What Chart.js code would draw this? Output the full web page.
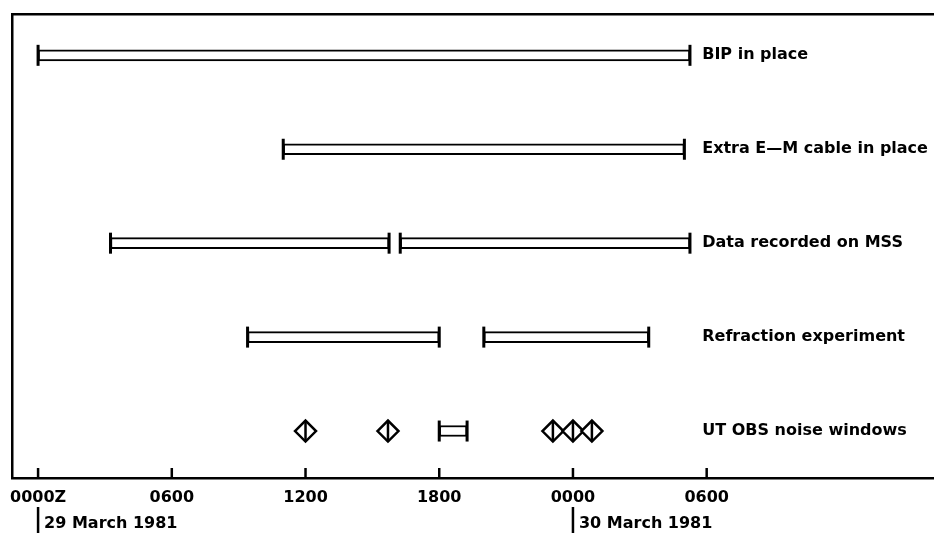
<!DOCTYPE html>
<html>
<head>
<meta charset="utf-8">
<script src="https://cdn.jsdelivr.net/npm/chart.js@4.4.1/dist/chart.umd.min.js"></script>
<style>
  html, body { margin: 0; padding: 0; background: #fff; overflow: hidden; }
  canvas { display: block; }
</style>
</head>
<body>
<canvas id="timeline" width="934" height="533"></canvas>
<script>
// hours from 0000Z 29 March 1981
const rowLabels = ['BIP in place', 'Extra E\u2014M cable in place', 'Data recorded on MSS', 'Refraction experiment', 'UT OBS noise windows'];
const barRows   = [0, 1, 2, 2, 3, 3, 4];
const barStarts = [0, 11.0, 3.25, 16.25, 9.4, 20.0, 18.0];
const barEnds   = [29.25, 29.0, 15.75, 29.25, 18.0, 27.4, 19.25];
const noiseTimes = [12.0, 15.7, 23.1, 24.0, 24.85];
const noiseRow = 4;
const tickValues = [0, 6, 12, 18, 24, 30];
const tickLabels = ['0000Z', '0600', '1200', '1800', '0000', '0600'];
const dateTimes  = [0, 24];
const dateLabels = ['29 March 1981', '30 March 1981'];
const labelHour = 29.8;

const FONT = 'bold 16px "DejaVu Sans"';
const X_MIN = -1.17, X_MAX = 40.2;

const bars = barRows.map((r, i) => ({ y: r, x: [barStarts[i], barEnds[i]] }));
const caps = barRows.flatMap((r, i) => [{ x: barStarts[i], y: r }, { x: barEnds[i], y: r }]);
const noisePts = noiseTimes.map(t => ({ x: t, y: noiseRow }));

// scatter points that don't push the chart area inward (frame goes to the canvas edge)
class MarkController extends Chart.ScatterController {
    getMaxOverflow() { return 0; }
}
MarkController.id = 'marks';
MarkController.defaults = Object.assign({}, Chart.ScatterController.defaults);
Chart.register(MarkController);

const decorPlugin = {
    id: 'decor',
    afterDraw(chart) {
        const { ctx, scales: { x, y }, chartArea } = chart;
        ctx.save();
        ctx.strokeStyle = '#000';
        ctx.fillStyle = '#000';
        // inward tick marks
        ctx.lineWidth = 2.5;
        tickValues.forEach(v => {
            const px = x.getPixelForValue(v);
            ctx.beginPath();
            ctx.moveTo(px, chartArea.bottom);
            ctx.lineTo(px, chartArea.bottom - 10);
            ctx.stroke();
        });
        // right-hand row labels
        ctx.font = FONT;
        ctx.textBaseline = 'middle';
        ctx.textAlign = 'left';
        const lx = x.getPixelForValue(labelHour);
        rowLabels.forEach((lab, i) => ctx.fillText(lab, lx, y.getPixelForValue(i)));
        // date markers under the axis
        dateTimes.forEach((t, i) => {
            const px = x.getPixelForValue(t);
            ctx.beginPath();
            ctx.moveTo(px, chartArea.bottom + 29);
            ctx.lineTo(px, chartArea.bottom + 55);
            ctx.stroke();
            ctx.fillText(dateLabels[i], px + 6, chartArea.bottom + 46);
        });
        ctx.restore();
    }
};

const noPad = s => { s.paddingLeft = 0; s.paddingRight = 0; s.paddingTop = 0; s.paddingBottom = 0; };

new Chart(document.getElementById('timeline'), {
    type: 'scatter',
    data: {
        datasets: [
            {
                type: 'bar',
                indexAxis: 'y',
                order: 3,
                data: bars,
                backgroundColor: '#fff',
                borderColor: '#000',
                borderWidth: 2,
                borderSkipped: false,
                barThickness: 11
            },
            {
                type: 'marks',
                order: 1,
                data: caps,
                pointStyle: 'line',
                rotation: 90,
                radius: 10.5,
                borderColor: '#000',
                borderWidth: 3
            },
            {
                type: 'marks',
                order: 2,
                data: noisePts,
                pointStyle: 'rectRot',
                radius: 10.5,
                backgroundColor: '#fff',
                borderColor: '#000',
                borderWidth: 2.5
            },
            {
                type: 'marks',
                order: 0,
                data: noisePts,
                pointStyle: 'line',
                rotation: 90,
                radius: 10.5,
                borderColor: '#000',
                borderWidth: 2.5
            }
        ]
    },
    options: {
        responsive: false,
        animation: false,
        layout: { padding: { left: 12, top: 14, right: 0, bottom: 0 } },
        plugins: { legend: { display: false }, tooltip: { enabled: false } },
        scales: {
            x: {
                type: 'linear',
                position: 'bottom',
                offset: false,
                min: X_MIN,
                max: X_MAX,
                afterBuildTicks: s => { s.ticks = tickValues.map(v => ({ value: v })); },
                afterFit: s => { s.height = 55; noPad(s); },
                grid: { display: false, drawTicks: false },
                border: { display: true, color: '#000', width: 2.5 },
                ticks: {
                    color: '#000',
                    font: { family: 'DejaVu Sans', size: 16, weight: 'bold' },
                    padding: 10,
                    maxRotation: 0,
                    autoSkip: false,
                    callback: v => tickLabels[tickValues.indexOf(v)]
                }
            },
            x2: {
                type: 'linear',
                position: 'top',
                offset: false,
                min: X_MIN,
                max: X_MAX,
                afterFit: s => { s.height = 0; noPad(s); },
                grid: { display: false, drawTicks: false },
                border: { display: true, color: '#000', width: 2.5 },
                ticks: { display: false }
            },
            y: {
                type: 'linear',
                reverse: true,
                offset: false,
                min: -0.44,
                max: 4.5,
                afterFit: s => { s.width = 0; noPad(s); },
                grid: { display: false, drawTicks: false },
                border: { display: true, color: '#000', width: 2.5 },
                ticks: { display: false }
            }
        }
    },
    plugins: [decorPlugin]
});
</script>
</body>
</html>
